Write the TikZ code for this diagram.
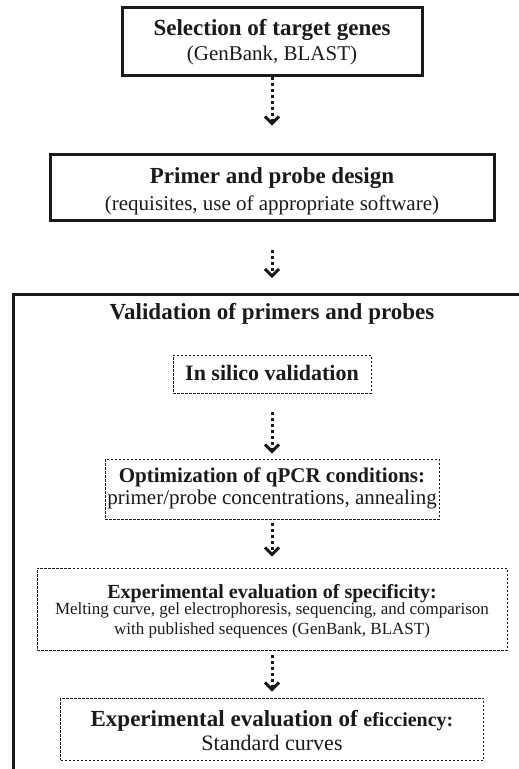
\documentclass[tikz,border=0pt]{standalone}
\usepackage{fontspec}
\setmainfont{Liberation Serif}
\usetikzlibrary{arrows.meta}
\definecolor{ink}{HTML}{1A1A1A}
\tikzset{
  solidbox/.style={draw=ink, line width=3pt, inner sep=0pt},
  dashbox/.style={draw=ink, line width=0.9pt, dash pattern=on 2.5pt off 1.5pt, inner sep=0pt},
  flow/.style={draw=ink, line width=3pt, dash pattern=on 3pt off 3pt, -{Straight Barb[length=7pt,width=14pt,sharp]}},
  txt/.style={anchor=base, inner sep=0pt, text=ink},
  big/.style={font=\fontsize{23}{25}\selectfont\bfseries},
  sub/.style={font=\fontsize{21}{23}\selectfont},
}
\begin{document}
\begin{tikzpicture}[x=1pt,y=-1pt]
\clip (0,0) rectangle (519,769);
\fill[white] (0,0) rectangle (519,769);
% boxes
\node[solidbox, minimum width=300pt, minimum height=68pt] (sel) at (272,41) {};
\node[solidbox, minimum width=444pt, minimum height=66pt] (prim) at (272,187) {};
\node[solidbox, anchor=north west, minimum width=522pt, minimum height=507pt] (val) at (12,293) {};
\node[dashbox, minimum width=198pt, minimum height=38pt] (sil) at (272,374) {};
\node[dashbox, minimum width=334pt, minimum height=60pt] (opt) at (272,489) {};
\node[dashbox, minimum width=470pt, minimum height=82pt] (spec) at (272,609) {};
\node[dashbox, minimum width=423pt, minimum height=62pt] (eff) at (272,729) {};
% texts
\node[txt, big] (selT) at (272,35.6) {Selection of target genes};
\node[txt, sub] (selS) at (272,60) {(GenBank, BLAST)};
\node[txt, big] (primT) at (272,183) {Primer and probe design};
\node[txt, sub] (primS) at (272,210) {(requisites, use of appropriate software)};
\node[txt, big] (valT) at (272,319) {Validation of primers and probes};
\node[txt, font=\fontsize{22}{24}\selectfont\bfseries] (silT) at (272,380.5) {In silico validation};
\node[txt, font=\fontsize{21}{23}\selectfont\bfseries] (optT) at (272,482) {Optimization of qPCR conditions:};
\node[txt, sub] (optS) at (272,504) {primer/probe concentrations, annealing};
\node[txt, font=\fontsize{20}{22}\selectfont\bfseries] (specT) at (272,598) {Experimental evaluation of specificity:};
\node[txt, font=\fontsize{17}{19}\selectfont] (specS1) at (272,614) {Melting curve, gel electrophoresis, sequencing, and comparison};
\node[txt, font=\fontsize{17}{19}\selectfont] (specS2) at (272,634) {with published sequences (GenBank, BLAST)};
\node[txt, big] (effT) at (272,726) {Experimental evaluation of {\fontsize{20}{22}\selectfont eficciency:}};
\node[txt, font=\fontsize{22}{24}\selectfont] (effS) at (272,750) {Standard curves};
% connectors
\draw[flow, shorten >=27pt] (sel.south) -- (prim.north);
\draw[flow, shorten <=28pt, shorten >=15pt] (prim.south) -- (prim.south |- val.north);
\draw[flow, shorten <=19pt, shorten >=5pt] (sil.south) -- (opt.north);
\draw[flow, shorten <=4pt, shorten >=11pt] (opt.south) -- (spec.north);
\draw[flow, shorten <=5pt, shorten >=6pt] (spec.south) -- (eff.north);
\end{tikzpicture}
\end{document}
